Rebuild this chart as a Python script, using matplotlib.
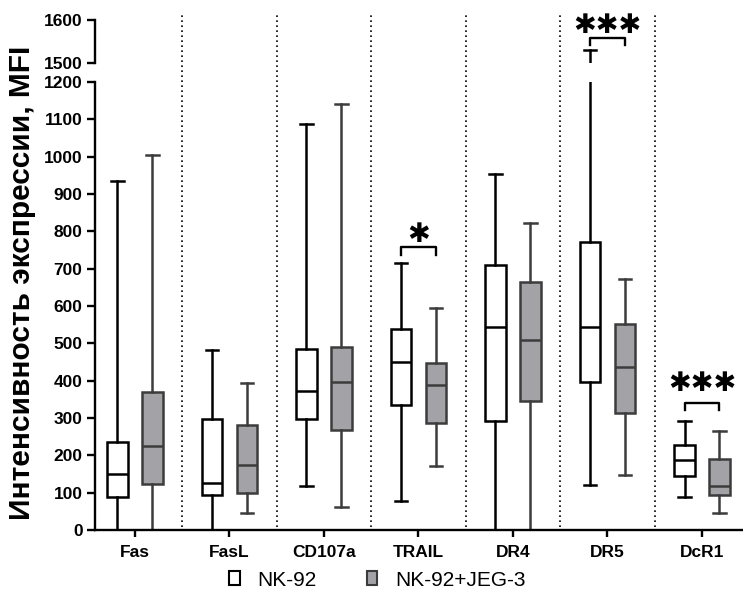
import matplotlib
matplotlib.use("Agg")
import matplotlib.pyplot as plt
from matplotlib.patches import Patch
from matplotlib.lines import Line2D
import matplotlib.transforms as mtransforms

plt.rcParams['font.family'] = ['Liberation Sans', 'DejaVu Sans']

categories = ["Fas", "FasL", "CD107a", "TRAIL", "DR4", "DR5", "DcR1"]
series_names = ["NK-92", "NK-92+JEG-3"]

# whislo, q1, median, q3, whishi
nk92_min = [0, 0, 118, 78, 0, 120, 89]
nk92_q1 = [89, 94, 296, 336, 293, 396, 145]
nk92_med = [150, 127, 373, 451, 543, 545, 188]
nk92_q3 = [237, 296, 484, 539, 709, 771, 228]
nk92_max = [935, 482, 1088, 714, 953, 1530, 292]

jeg_min = [0, 45, 62, 171, 0, 146, 45]
jeg_q1 = [123, 98, 268, 286, 346, 313, 94]
jeg_med = [225, 174, 396, 388, 510, 437, 118]
jeg_q3 = [370, 282, 489, 446, 664, 553, 190]
jeg_max = [1005, 393, 1141, 595, 823, 672, 266]

# significance: (category, label, bracket level)
sig_cats = ["TRAIL", "DR5", "DcR1"]
sig_labels = ["*", "***", "***"]
sig_levels = [757, 1559, 341]
sig_text_y = [790, 1585, 391]

yticks_low = [0, 100, 200, 300, 400, 500, 600, 700, 800, 900, 1000, 1100, 1200]
yticks_high = [1500, 1600]

W, H = 743, 598
fig = plt.figure(figsize=(W / 100, H / 100), dpi=100)

left = 95 / W
width = 1 - left
ax = fig.add_axes([left, (H - 530) / H, width, (530 - 82) / H])
axt = fig.add_axes([left, (H - 63) / H, width, (63 - 20) / H])

edge_w = "black"
edge_g = "#3c3c3c"
fill_g = "#a3a3a7"
lw = 1.8
off = 0.185
bw = 0.22
capw = 0.13

def stats(mins, q1s, meds, q3s, maxs):
    return [dict(whislo=a, q1=b, med=c, q3=d, whishi=e, fliers=[])
            for a, b, c, d, e in zip(mins, q1s, meds, q3s, maxs)]

st_w = stats(nk92_min, nk92_q1, nk92_med, nk92_q3, nk92_max)
st_g = stats(jeg_min, jeg_q1, jeg_med, jeg_q3, jeg_max)
pos = list(range(len(categories)))

for a in (ax, axt):
    a.bxp(st_w, positions=[p - off for p in pos], widths=bw, patch_artist=True,
          showfliers=False, capwidths=capw,
          boxprops=dict(facecolor="white", edgecolor=edge_w, linewidth=lw),
          medianprops=dict(color=edge_w, linewidth=lw),
          whiskerprops=dict(color=edge_w, linewidth=lw),
          capprops=dict(color=edge_w, linewidth=lw))
    a.bxp(st_g, positions=[p + off for p in pos], widths=bw, patch_artist=True,
          showfliers=False, capwidths=capw,
          boxprops=dict(facecolor=fill_g, edgecolor=edge_g, linewidth=lw),
          medianprops=dict(color=edge_g, linewidth=lw),
          whiskerprops=dict(color=edge_g, linewidth=lw),
          capprops=dict(color=edge_g, linewidth=lw))
    a.set_xlim(-0.423, 6.434)
    for s in ("top", "right"):
        a.spines[s].set_visible(False)
    a.spines["left"].set_linewidth(1.7)
    a.spines["left"].set_zorder(5)
    a.tick_params(axis="y", width=1.7, length=6, pad=3, labelsize=12.5)

ax.set_ylim(0, 1200)
ax.set_yticks(yticks_low)
ax.set_yticklabels([str(v) for v in yticks_low], fontweight="bold", fontsize=12.5)
ax.spines["bottom"].set_linewidth(1.7)
ax.spines["bottom"].set_zorder(5)
ax.set_xticks(pos)
ax.set_xticklabels(categories, fontweight="bold", fontsize=12.5)
ax.tick_params(axis="x", width=1.7, length=5, pad=6)

axt.set_ylim(1500, 1600)
axt.set_yticks(yticks_high)
axt.set_yticklabels([str(v) for v in yticks_high], fontweight="bold", fontsize=12.5)
axt.spines["bottom"].set_visible(False)
axt.set_xticks([])
axt.patch.set_alpha(0)

# dotted separators spanning the whole plot
tr = mtransforms.blended_transform_factory(ax.transData, fig.transFigure)
for i in range(len(categories) - 1):
    x = i + 0.5
    fig.add_artist(Line2D([x, x], [(H - 527) / H, (H - 13) / H], transform=tr,
                          color="black", lw=1.2, linestyle=(0, (1, 2))))

# significance brackets
for cat, lab, lev, ty in zip(sig_cats, sig_labels, sig_levels, sig_text_y):
    i = categories.index(cat)
    a = axt if lev >= 1500 else ax
    leg = 17 if a is axt else 20
    a.plot([i - off, i - off, i + off, i + off], [lev - leg, lev, lev, lev - leg],
           color="black", lw=1.7, clip_on=False)
    a.text(i, ty, "\u2731" * len(lab), ha="center", va="center", fontsize=19.5,
           family=["DejaVu Sans"], clip_on=False)

fig.text(22 / W, 1 - 283 / H, "Интенсивность экспрессии, MFI", rotation=90,
         ha="center", va="center", fontsize=21.5, fontweight="bold")

handles = [Patch(facecolor="white", edgecolor=edge_w, linewidth=1.5, label=series_names[0]),
           Patch(facecolor=fill_g, edgecolor=edge_g, linewidth=1.5, label=series_names[1])]
fig.legend(handles=handles, loc="center", bbox_to_anchor=(0.508, 1 - 580 / H), ncol=2,
           frameon=False, fontsize=15, handlelength=0.5, handleheight=0.65,
           handletextpad=0.85, columnspacing=2.4)

fig.savefig("out.png", dpi=100)
